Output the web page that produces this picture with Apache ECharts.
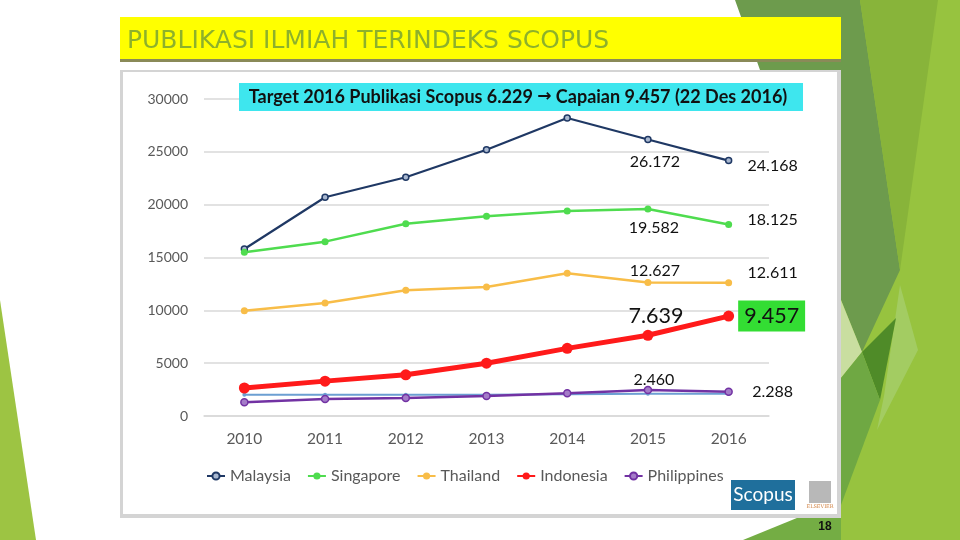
<!DOCTYPE html>
<html>
<head>
<meta charset="utf-8">
<style>
  html, body { margin: 0; padding: 0; background: #fff; }
  #chart { width: 960px; height: 540px; }
</style>
<script src="https://cdn.jsdelivr.net/npm/echarts@6/dist/echarts.min.js"></script>
</head>
<body>
<div id="chart"></div>
<script>
const years = ['2010', '2011', '2012', '2013', '2014', '2015', '2016']
const malaysia = [15800, 20700, 22600, 25200, 28200, 26172, 24168]
const singapore = [15500, 16500, 18200, 18900, 19400, 19582, 18125]
const thailand = [9950, 10700, 11900, 12200, 13500, 12627, 12611]
const indonesia = [2650, 3300, 3900, 5000, 6400, 7639, 9457]
const philippines = [1300, 1600, 1700, 1900, 2150, 2460, 2288]
const unnamedLine = [2000, 2000, 2000, 2000, 2050, 2100, 2100]

const font = 'Lato, "Open Sans", sans-serif'
const fmt = (v) => (v / 1000).toFixed(3)

// labels only on the 2015 and 2016 points
function withLabels(values, offsets, big) {
  return values.map((v, i) => {
    if (i < 5) return v
    const k = i - 5
    const label = {
      show: true,
      position: 'inside',
      offset: offsets[k],
      formatter: (p) => fmt(p.value),
      color: '#111',
      fontFamily: font,
      fontSize: 16,
    }
    if (big) {
      label.fontSize = 21.5
      if (k === 1) {
        label.backgroundColor = '#33dd33'
        label.padding = [5, 6, 4, 6]
      }
    }
    return { value: v, label }
  })
}

const chartDom = document.getElementById('chart')
const myChart = echarts.init(chartDom)

const bg = [
  { type: 'rect', shape: { x: 841, y: 0, width: 119, height: 540 }, style: { fill: '#97c33f' } },
  { type: 'polygon', shape: { points: [[735, 0], [860, 0], [900, 270], [862, 352], [841, 300], [841, 70], [760, 70]] }, style: { fill: '#6d9b4d' } },
  { type: 'polygon', shape: { points: [[860, 0], [938, 0], [900, 270]] }, style: { fill: '#88b43a' } },
  { type: 'polygon', shape: { points: [[900, 285], [918, 350], [877, 430], [884, 396]] }, style: { fill: '#a3cc62' } },
  { type: 'polygon', shape: { points: [[841, 300], [862, 352], [841, 378]] }, style: { fill: '#c9dea0' } },
  { type: 'polygon', shape: { points: [[896, 318], [862, 352], [880, 400]] }, style: { fill: '#4f8b28' } },
  { type: 'polygon', shape: { points: [[841, 378], [862, 352], [880, 400], [841, 505]] }, style: { fill: '#6fa843' } },
  { type: 'polygon', shape: { points: [[743, 540], [841, 500], [841, 540]] }, style: { fill: '#74ad44' } },
  { type: 'polygon', shape: { points: [[0, 300], [36, 540], [0, 540]] }, style: { fill: '#9dc443' } },
]

const panel = [
  { type: 'rect', shape: { x: 120, y: 17, width: 721, height: 45 }, style: { fill: '#8a8a58' } },
  { type: 'rect', shape: { x: 120, y: 17, width: 721, height: 42 }, style: { fill: '#ffff00' } },
  { type: 'text', x: 127, y: 41, style: { text: 'PUBLIKASI ILMIAH TERINDEKS SCOPUS', fill: '#8db12b', font: '25px "DejaVu Sans", sans-serif', textVerticalAlign: 'middle' } },
  { type: 'rect', shape: { x: 120, y: 70, width: 721, height: 448 }, style: { fill: '#d4d4d4' } },
  { type: 'rect', shape: { x: 123, y: 72, width: 714, height: 442 }, style: { fill: '#ffffff' } },
]

const overlay = [
  { type: 'rect', shape: { x: 239, y: 83, width: 564, height: 28 }, style: { fill: '#3ee6ee' } },
  {
    type: 'text', x: 518, y: 97,
    style: {
      text: '{t|Target 2016 Publikasi Scopus 6.229 }{a|\u2192}{t| Capaian 9.457 (22 Des 2016)}',
      textAlign: 'center', textVerticalAlign: 'middle',
      rich: {
        t: { fontFamily: font, fontWeight: 'bold', fontSize: 18, fill: '#111' },
        a: { fontFamily: '"DejaVu Sans", sans-serif', fontWeight: 'bold', fontSize: 17, fill: '#111' },
      },
    },
  },
  { type: 'rect', shape: { x: 731, y: 480, width: 64, height: 30 }, style: { fill: '#1f6f9c' } },
  { type: 'text', x: 763, y: 495, style: { text: 'Scopus', fill: '#fff', font: '19px Lato, sans-serif', textAlign: 'center', textVerticalAlign: 'middle' } },
  { type: 'rect', shape: { x: 809, y: 481, width: 22, height: 22 }, style: { fill: '#b8b8b8' } },
  { type: 'text', x: 820, y: 507, style: { text: 'ELSEVIER', fill: '#d08040', font: '5px "DejaVu Serif", serif', textAlign: 'center', textVerticalAlign: 'middle' } },
  { type: 'text', x: 825, y: 527, style: { text: '18', fill: '#111', font: 'bold 12px "Liberation Sans", sans-serif', textAlign: 'center', textVerticalAlign: 'middle' } },
]

const option = {
  animation: false,
  graphic: [
    ...bg.map((e) => ({ ...e, z: -20, silent: true })),
    ...panel.map((e) => ({ ...e, z: -10, silent: true })),
    ...overlay.map((e) => ({ ...e, z: 100, silent: true })),
  ],
  legend: {
    data: ['Malaysia', 'Singapore', 'Thailand', 'Indonesia', 'Philippines'],
    left: 201,
    top: 463,
    itemGap: 16,
    itemWidth: 18,
    itemHeight: 9,
    textStyle: { color: '#595959', fontSize: 16, fontFamily: font },
  },
  grid: { left: 204, right: 191, top: 99, bottom: 124 },
  xAxis: {
    type: 'category',
    data: years,
    axisLine: { lineStyle: { color: '#d9d9d9', width: 1.5 } },
    axisTick: { show: false },
    axisLabel: { color: '#595959', fontSize: 15.5, fontFamily: font, margin: 15 },
  },
  yAxis: {
    type: 'value',
    min: 0,
    max: 30000,
    interval: 5000,
    axisLabel: { color: '#595959', fontSize: 14, fontFamily: font, margin: 16, formatter: (v) => String(v) },
    splitLine: { lineStyle: { color: '#d9d9d9', width: 1.5 } },
  },
  series: [
    {
      name: 'Malaysia', type: 'line', data: withLabels(malaysia, [[7, 22], [44, 5]]),
      color: '#1f3864', lineStyle: { width: 2.2, color: '#1f3864' }, symbol: 'circle', symbolSize: 6,
      itemStyle: { color: '#a9b8d0', borderColor: '#1f3864', borderWidth: 1.5 },
    },
    {
      name: 'Singapore', type: 'line', data: withLabels(singapore, [[6, 19], [44, -5]]),
      color: '#4fdc4f', lineStyle: { width: 2.5 }, symbol: 'circle', symbolSize: 7,
    },
    {
      name: 'Thailand', type: 'line', data: withLabels(thailand, [[7, -12], [44, -10]]),
      color: '#f8bd48', lineStyle: { width: 2.5 }, symbol: 'circle', symbolSize: 7,
    },
    {
      name: 'unnamed', type: 'line', data: unnamedLine,
      color: '#6c9fd2', lineStyle: { width: 2 }, symbol: 'circle', symbolSize: 4,
    },
    {
      name: 'Indonesia', type: 'line', data: withLabels(indonesia, [[8, -19], [43, 0]], true),
      color: '#ff1a1a', lineStyle: { width: 5 }, symbol: 'circle', symbolSize: 11, z: 4,
    },
    {
      name: 'Philippines', type: 'line', data: withLabels(philippines, [[6, -10], [44, 0]]),
      color: '#7232a3', lineStyle: { width: 2.5, color: '#7232a3' }, symbol: 'circle', symbolSize: 7,
      itemStyle: { color: '#a47cc8', borderColor: '#7232a3', borderWidth: 1.5 },
    },
  ],
}

myChart.setOption(option)

window.addEventListener('resize', () => {
  myChart.resize()
})
</script>
</body>
</html>
